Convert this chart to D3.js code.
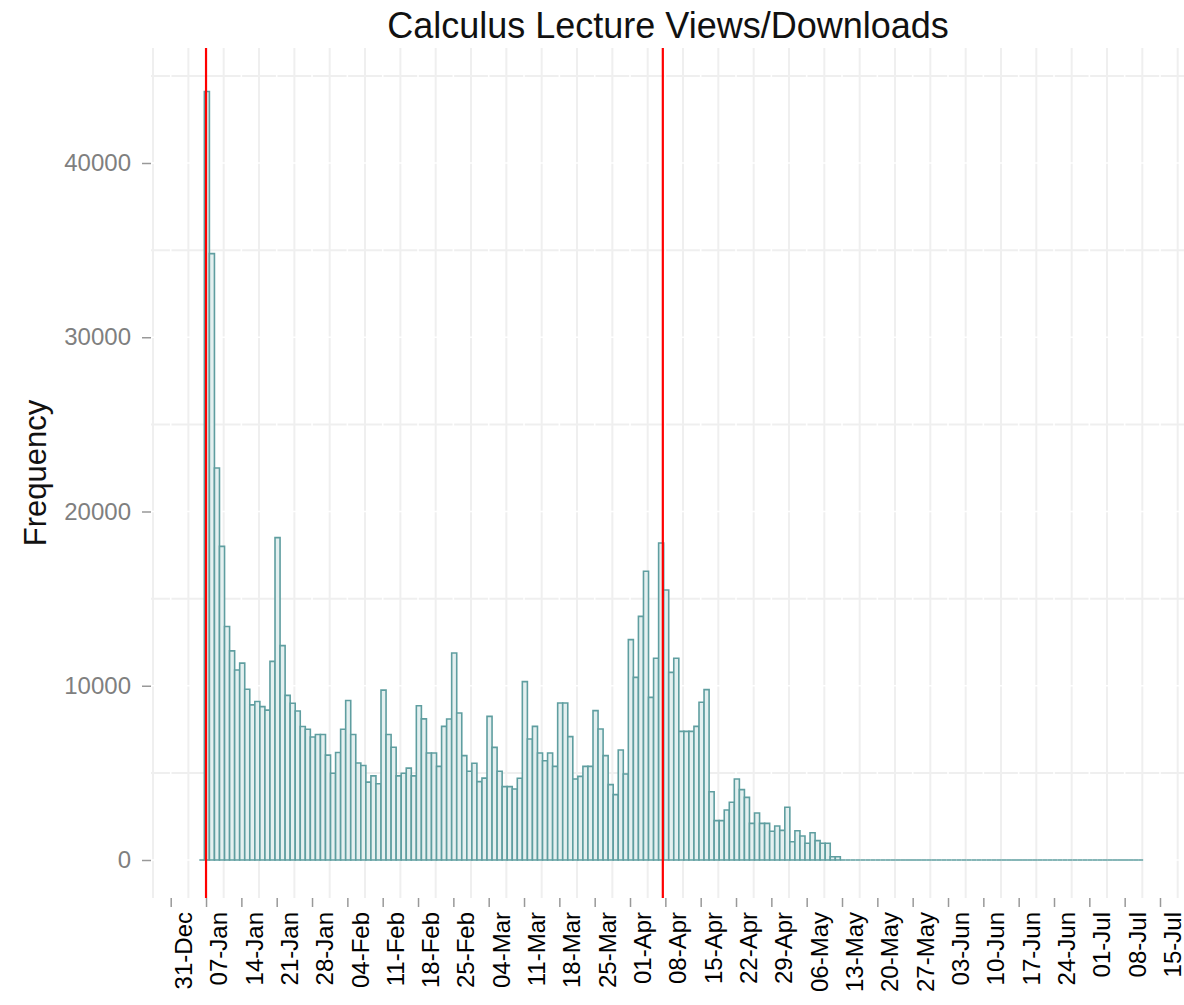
<!DOCTYPE html>
<html>
<head>
<meta charset="utf-8">
<script src="https://cdn.jsdelivr.net/npm/d3@7"></script>
<style>
  body { margin: 0; background: #fff; }
  text { font-family: "Liberation Sans", Arial, sans-serif; }
</style>
</head>
<body>
<svg id="chart" width="1184" height="1005"></svg>
<script>
// daily counts, one bin per day starting at binStart
var binStart = Date.UTC(2013, 0, 5, 16);
var counts = [
    0, 44100, 34800, 22500, 18000, 13400, 12000, 10900, 11300, 9800,
    8900, 9100, 8800, 8600, 11400, 18500, 12300, 9450, 9000, 8550,
    7660, 7500, 7060, 7200, 7200, 6020, 4980, 6170, 7500, 9150,
    7200, 5570, 5420, 4470, 4830, 4380, 9750, 7200, 6470, 4830,
    4980, 5270, 4830, 8850, 8100, 6140, 6140, 5375, 7670, 8090,
    11880, 8437, 5990, 5090, 5550, 4495, 4700, 8245, 6466, 5090,
    4210, 4210, 4075, 4690, 10235, 6944, 7670, 6140, 5700, 6140,
    5375, 9010, 9010, 7078, 4650, 4800, 5375, 5375, 8570, 7518,
    5990, 4323, 3750, 6313, 4935, 12645, 10483, 13984, 16567, 9335,
    11574, 18193, 15495, 10770, 11574, 7384, 7384, 7384, 7670, 9050,
    9775, 3920, 2257, 2257, 2870, 3310, 4650, 4036, 3596, 2100,
    2700, 2100, 2100, 1650, 1950, 1700, 3024, 1050, 1680, 1377,
    957, 1567, 1110, 958, 958, 190, 190, 0, 0, 0,
    0, 0, 0, 0, 0, 0, 0, 0, 0, 0,
    0, 0, 0, 0, 0, 0, 0, 0, 0, 0,
    0, 0, 0, 0, 0, 0, 0, 0, 0, 0,
    0, 0, 0, 0, 0, 0, 0, 0, 0, 0,
    0, 0, 0, 0, 0, 0, 0, 0, 0, 0,
    0, 0, 0, 0, 0, 0, 0
];

// semester markers (red lines)
var markers = [Date.UTC(2013, 0, 7, 0), Date.UTC(2013, 3, 7, 12)];

var yTicks = [0, 10000, 20000, 30000, 40000];
var yMinor = [5000, 15000, 25000, 35000, 45000];
var titleText = "Calculus Lecture Views/Downloads";
var yLabel = "Frequency";

var svg = d3.select("#chart");
var panel = {left: 151, right: 1192, top: 48, bottom: 898};

//scales
var x = d3.scaleUtc()
    .domain([Date.UTC(2012, 11, 31), Date.UTC(2013, 6, 15)])
    .range([170.7, 1160]);
var y = d3.scaleLinear()
    .domain([0, 40000])
    .range([860, 163]);

var bins = counts.map(function(c, i) {
    var d0 = d3.utcDay.offset(new Date(binStart), i);
    return {x0: d0, x1: d3.utcDay.offset(d0, 1), count: c};
});

// weekly ticks (Mondays) and minor gridlines in between
var weekTicks = d3.utcMonday.range(new Date(Date.UTC(2012, 11, 31)), new Date(Date.UTC(2013, 6, 16)));
var minorX = d3.utcMonday.range(new Date(Date.UTC(2012, 11, 24)), new Date(Date.UTC(2013, 6, 23)))
    .map(function(d) { return d3.utcHour.offset(d, 84); })
    .filter(function(d) { return x(d) > panel.left && x(d) < panel.right; });

var grid = svg.append("g");

//minor grid (grey)
grid.selectAll("line.vminor")
    .data(minorX).enter().append("line")
    .attr("x1", function(d) { return x(d); })
    .attr("x2", function(d) { return x(d); })
    .attr("y1", panel.top).attr("y2", panel.bottom)
    .attr("stroke", "#efefef").attr("stroke-width", 2);
grid.selectAll("line.hminor")
    .data(yMinor).enter().append("line")
    .attr("x1", panel.left).attr("x2", panel.right)
    .attr("y1", function(d) { return y(d); })
    .attr("y2", function(d) { return y(d); })
    .attr("stroke", "#efefef").attr("stroke-width", 2);

//major grid (white, cuts the grey lines)
grid.selectAll("line.vmajor")
    .data(weekTicks).enter().append("line")
    .attr("x1", function(d) { return x(d); })
    .attr("x2", function(d) { return x(d); })
    .attr("y1", panel.top).attr("y2", panel.bottom)
    .attr("stroke", "#fff").attr("stroke-width", 1.6);
grid.selectAll("line.hmajor")
    .data(yTicks).enter().append("line")
    .attr("x1", panel.left).attr("x2", panel.right)
    .attr("y1", function(d) { return y(d); })
    .attr("y2", function(d) { return y(d); })
    .attr("stroke", "#fff").attr("stroke-width", 1.6);

//bars (paths so empty bins still show as outline)
svg.append("g").selectAll("path")
    .data(bins).enter().append("path")
    .attr("d", function(d) {
        var a = x(d.x0), b = x(d.x1), y0 = y(0), y1 = y(d.count);
        return "M" + a + "," + y0 + "V" + y1 + "H" + b + "V" + y0 + "Z";
    })
    .attr("fill", "#e4f0f0")
    .attr("stroke", "#5f9ea0")
    .attr("stroke-width", 1.6);

//red lines
svg.append("g").selectAll("line")
    .data(markers).enter().append("line")
    .attr("x1", function(d) { return x(d); })
    .attr("x2", function(d) { return x(d); })
    .attr("y1", panel.top).attr("y2", panel.bottom)
    .attr("stroke", "#ff0000").attr("stroke-width", 2.2);

//y axis
var yAxis = svg.append("g")
    .attr("transform", "translate(" + panel.left + ",0)")
    .call(d3.axisLeft(y).tickValues(yTicks).tickSize(9).tickPadding(11).tickFormat(d3.format("d")));
yAxis.select(".domain").remove();
yAxis.selectAll("line").attr("stroke", "#999").attr("stroke-width", 1.5);
yAxis.selectAll("text")
    .attr("fill", "#7f7f7f")
    .style("font-size", "24px")
    .style("font-family", "Liberation Sans, Arial, sans-serif");

//x axis
var xAxis = svg.append("g")
    .attr("transform", "translate(0," + panel.bottom + ")")
    .call(d3.axisBottom(x).tickValues(weekTicks).tickSize(9).tickFormat(d3.utcFormat("%d-%b")));
xAxis.select(".domain").remove();
xAxis.selectAll("line").attr("stroke", "#999").attr("stroke-width", 1.5);
xAxis.selectAll("text")
    .attr("fill", "#000")
    .attr("text-anchor", "end")
    .attr("y", 0)
    .attr("dy", "0.36em")
    .attr("transform", "translate(12,14) rotate(-90)")
    .style("font-size", "24px")
    .style("font-family", "Liberation Sans, Arial, sans-serif");

//titles
svg.append("text")
    .attr("x", 668).attr("y", 38)
    .attr("text-anchor", "middle")
    .attr("fill", "#111")
    .style("font-size", "36px")
    .text(titleText);

svg.append("text")
    .attr("transform", "translate(46," + ((panel.top + panel.bottom) / 2) + ") rotate(-90)")
    .attr("text-anchor", "middle")
    .attr("fill", "#111")
    .style("font-size", "31px")
    .text(yLabel);
</script>
</body>
</html>
